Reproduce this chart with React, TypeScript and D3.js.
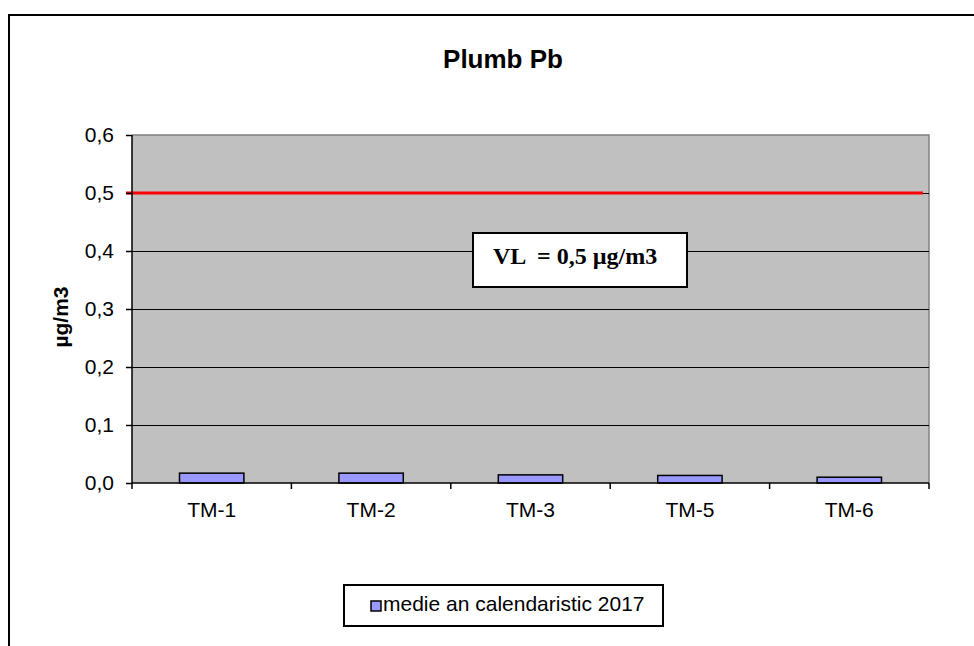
import { useEffect, useRef } from 'react';
import * as d3 from 'd3';

const categories = ['TM-1', 'TM-2', 'TM-3', 'TM-5', 'TM-6'];
const medieValues = [0.017, 0.017, 0.014, 0.013, 0.01];
const yTicks = [0, 0.1, 0.2, 0.3, 0.4, 0.5, 0.6];
const limitValue = 0.5;
const seriesName = 'medie an calendaristic 2017';
const limitLabel = 'VL  = 0,5 µg/m3';

const SANS = '"Liberation Sans", Arial, sans-serif';
const SERIF = '"Liberation Serif", "Times New Roman", serif';

export default function App() {
  const svgRef = useRef<SVGSVGElement>(null);

  useEffect(() => {
    if (!svgRef.current) return;
    const width = 974;
    const height = 646;
    const plot = { left: 132, right: 929, top: 135, bottom: 483 };

    const svg = d3.select(svgRef.current);
    svg.selectAll('*').remove();
    svg.attr('width', width).attr('height', height);

    svg.append('rect')
      .attr('x', 0).attr('y', 0)
      .attr('width', width).attr('height', height)
      .attr('fill', '#fff');

    // chart frame (runs off the right and bottom of the picture)
    svg.append('rect')
      .attr('x', 9).attr('y', 15)
      .attr('width', 1000).attr('height', 700)
      .attr('fill', 'none')
      .attr('stroke', '#000')
      .attr('stroke-width', 2);

    const x = d3.scaleBand<string>()
      .domain(categories)
      .range([plot.left, plot.right])
      .paddingInner(0.596)
      .paddingOuter(0.298);

    const y = d3.scaleLinear()
      .domain([0, 0.6])
      .range([plot.bottom, plot.top]);

    // plot area
    svg.append('rect')
      .attr('x', plot.left).attr('y', plot.top)
      .attr('width', plot.right - plot.left)
      .attr('height', plot.bottom - plot.top)
      .attr('fill', '#c0c0c0');

    svg.append('path')
      .attr('d', `M${plot.left},${plot.top}H${plot.right}V${plot.bottom}`)
      .attr('fill', 'none')
      .attr('stroke', '#808080')
      .attr('stroke-width', 1.5);

    // gridlines
    svg.append('g')
      .selectAll('line')
      .data(yTicks.filter(t => t > 0 && t < 0.6))
      .join('line')
      .attr('x1', plot.left).attr('x2', plot.right)
      .attr('y1', d => Math.round(y(d)) + 0.5).attr('y2', d => Math.round(y(d)) + 0.5)
      .attr('stroke', '#000')
      .attr('stroke-width', 1)
      .attr('shape-rendering', 'crispEdges');

    // limit line
    svg.append('line')
      .attr('x1', plot.left - 6).attr('x2', plot.right - 6)
      .attr('y1', y(limitValue)).attr('y2', y(limitValue))
      .attr('stroke', '#ff0000')
      .attr('stroke-width', 3);

    // bars
    svg.append('g')
      .selectAll('rect')
      .data(categories)
      .join('rect')
      .attr('x', d => x(d)!)
      .attr('width', x.bandwidth())
      .attr('y', (_, i) => y(medieValues[i]))
      .attr('height', (_, i) => y(0) - y(medieValues[i]))
      .attr('fill', '#9999ff')
      .attr('stroke', '#000')
      .attr('stroke-width', 1.5);

    // y axis
    const yAxis = svg.append('g')
      .attr('transform', `translate(${plot.left},0)`)
      .call(d3.axisLeft(y).tickValues(yTicks).tickSize(6).tickPadding(12)
        .tickFormat(d => (d as number).toFixed(1).replace('.', ',')));
    yAxis.select('.domain').remove();
    yAxis.selectAll('line').attr('stroke', '#000').attr('stroke-width', 1.5);
    yAxis.selectAll('text')
      .attr('fill', '#000')
      .style('font-family', SANS)
      .style('font-size', '21px');
    svg.append('line')
      .attr('x1', plot.left).attr('x2', plot.left)
      .attr('y1', plot.top).attr('y2', plot.bottom)
      .attr('stroke', '#000').attr('stroke-width', 1.5);

    // x axis
    const boundaries = [...categories.map(c => x(c)! - (x.step() - x.bandwidth()) / 2), plot.right];
    svg.append('line')
      .attr('x1', plot.left).attr('x2', plot.right)
      .attr('y1', plot.bottom).attr('y2', plot.bottom)
      .attr('stroke', '#000').attr('stroke-width', 1.5);
    svg.append('g')
      .selectAll('line')
      .data(boundaries)
      .join('line')
      .attr('x1', d => d).attr('x2', d => d)
      .attr('y1', plot.bottom).attr('y2', plot.bottom + 6)
      .attr('stroke', '#000').attr('stroke-width', 1.5);
    svg.append('g')
      .selectAll('text')
      .data(categories)
      .join('text')
      .attr('x', d => x(d)! + x.bandwidth() / 2)
      .attr('y', 517)
      .attr('text-anchor', 'middle')
      .style('font-family', SANS)
      .style('font-size', '21px')
      .text(d => d);

    // title
    svg.append('text')
      .attr('x', 503).attr('y', 68)
      .attr('text-anchor', 'middle')
      .style('font-family', SANS)
      .style('font-size', '26px')
      .style('font-weight', 'bold')
      .text('Plumb Pb');

    // y axis title
    svg.append('text')
      .attr('transform', 'translate(68,317) rotate(-90)')
      .attr('text-anchor', 'middle')
      .style('font-family', SANS)
      .style('font-size', '21px')
      .style('font-weight', 'bold')
      .text('µg/m3');

    // limit label box
    svg.append('rect')
      .attr('x', 473).attr('y', 233)
      .attr('width', 214).attr('height', 54)
      .attr('fill', '#fff')
      .attr('stroke', '#000')
      .attr('stroke-width', 2);
    svg.append('text')
      .attr('x', 493).attr('y', 264)
      .style('font-family', SERIF)
      .style('font-size', '24px')
      .style('font-weight', 'bold')
      .style('white-space', 'pre')
      .text(limitLabel);

    // legend
    svg.append('rect')
      .attr('x', 344).attr('y', 585)
      .attr('width', 319).attr('height', 41)
      .attr('fill', '#fff')
      .attr('stroke', '#000')
      .attr('stroke-width', 2);
    svg.append('rect')
      .attr('x', 371).attr('y', 601)
      .attr('width', 10).attr('height', 10)
      .attr('fill', '#9999ff')
      .attr('stroke', '#000')
      .attr('stroke-width', 1.5);
    svg.append('text')
      .attr('x', 383).attr('y', 611)
      .style('font-family', SANS)
      .style('font-size', '21px')
      .text(seriesName);
  }, []);

  return (
    <div style={{ position: 'absolute', left: 0, top: 0 }}>
      <svg ref={svgRef} style={{ display: 'block' }} />
    </div>
  );
}
